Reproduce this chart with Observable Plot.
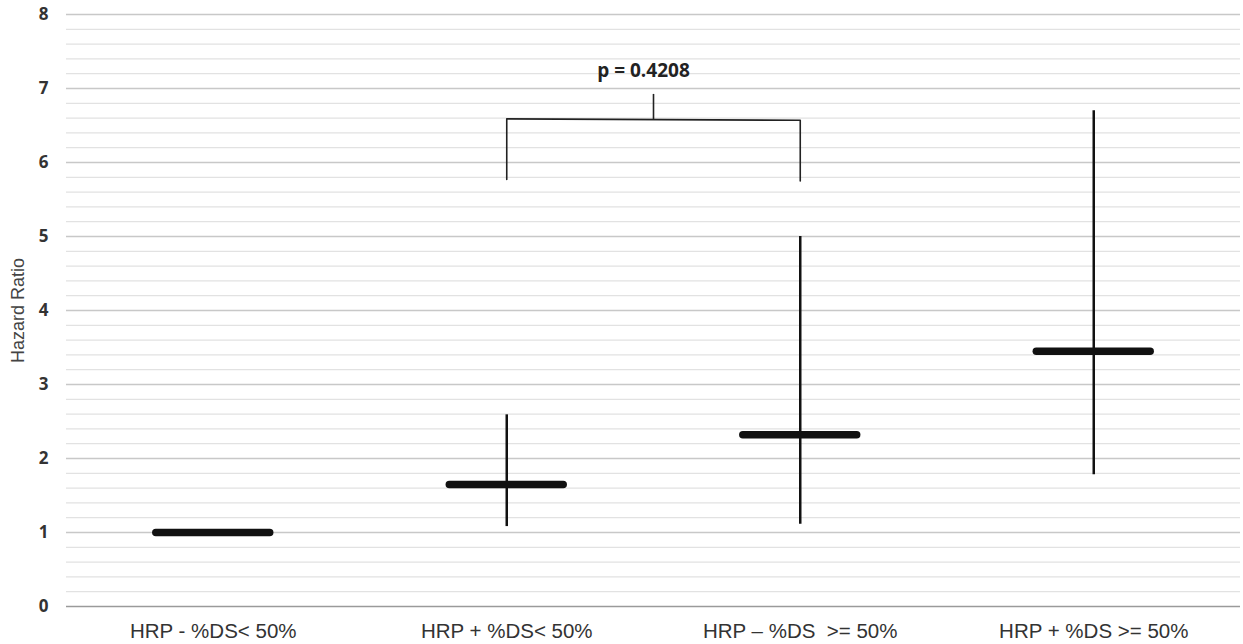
<!DOCTYPE html>
<html>
<head>
<meta charset="utf-8">
<script src="https://cdn.jsdelivr.net/npm/d3@7"></script>
<script src="https://cdn.jsdelivr.net/npm/@observablehq/plot@0.6"></script>
<style>
  html, body { margin: 0; padding: 0; background: #fff; }
  g[aria-label="x-axis tick label"] text { font-size: 20.5px; fill: #333; }
  g[aria-label="y-axis tick label"] text { font-size: 17px; font-weight: bold; fill: #333; font-family: "Open Sans", sans-serif; }
  g[aria-label="y-axis label"] text { font-size: 18px; fill: #444; }
  g[aria-label="text"] text { font-size: 19px; font-weight: bold; font-family: "Open Sans", sans-serif; }
</style>
</head>
<body>
<div id="chart"></div>
<script>
const categories = ["HRP - %DS< 50%", "HRP + %DS< 50%", "HRP \u2013 %DS  >= 50%", "HRP + %DS >= 50%"];
const hazardRatio = [1.0, 1.65, 2.32, 3.45];
const ciLow = [null, 1.08, 1.11, 1.78];
const ciHigh = [null, 2.59, 5.0, 6.70];
const majorTicks = [0, 1, 2, 3, 4, 5, 6, 7, 8];
const minorTicks = d3.range(0, 8.001, 0.2).map(v => +v.toFixed(1)).filter(v => !Number.isInteger(v));
const bracket = [
  {x: 2, y: 5.77}, {x: 2, y: 6.59}, {x: 3, y: 6.57}, {x: 3, y: 5.75}
];
const bracketStem = {x: 2.5, y1: 6.58, y2: 6.92};
const pLabel = {x: 2.5, y: 7.24, text: "p = 0.4208"};

const data = categories.map((c, i) => ({
  pos: i + 1, cat: c, hr: hazardRatio[i], lo: ciLow[i], hi: ciHigh[i]
}));
const hw = 0.194;

const chart = Plot.plot({
  width: 1243,
  height: 644,
  marginLeft: 66,
  marginRight: 3,
  marginTop: 14,
  marginBottom: 38,
  style: {fontFamily: "Liberation Sans, Arial, sans-serif", background: "#fff"},
  x: {domain: [0.5, 4.5]},
  y: {domain: [0, 8]},
  marks: [
    Plot.ruleY(minorTicks, {stroke: "#e2e2e2", strokeWidth: 1.2}),
    Plot.ruleY(majorTicks.filter(d => d > 0), {stroke: "#c8c8c8", strokeWidth: 1.5}),
    Plot.ruleY([0], {stroke: "#9a9a9a", strokeWidth: 1.5}),
    Plot.axisX({
      ticks: [1, 2, 3, 4], tickFormat: d => categories[d - 1], tickSize: 0,
      tickPadding: 17, label: null
    }),
    Plot.axisY({
      ticks: majorTicks, tickFormat: d => d, tickSize: 0, tickPadding: 18,
      label: "Hazard Ratio", labelAnchor: "center", labelOffset: 55, labelArrow: "none"
    }),
    Plot.ruleX(data.filter(d => d.lo != null), {x: "pos", y1: "lo", y2: "hi", stroke: "#111", strokeWidth: 2.5}),
    Plot.ruleY(data, {y: "hr", x1: d => d.pos - hw, x2: d => d.pos + hw, stroke: "#111", strokeWidth: 7.5, strokeLinecap: "round"}),
    Plot.line(bracket, {x: "x", y: "y", stroke: "#222", strokeWidth: 1.6}),
    Plot.ruleX([bracketStem], {x: "x", y1: "y1", y2: "y2", stroke: "#222", strokeWidth: 1.6}),
    Plot.text([pLabel], {x: "x", y: "y", text: "text", fill: "#222", dx: -10})
  ]
});
document.getElementById("chart").appendChild(chart);
</script>
</body>
</html>
